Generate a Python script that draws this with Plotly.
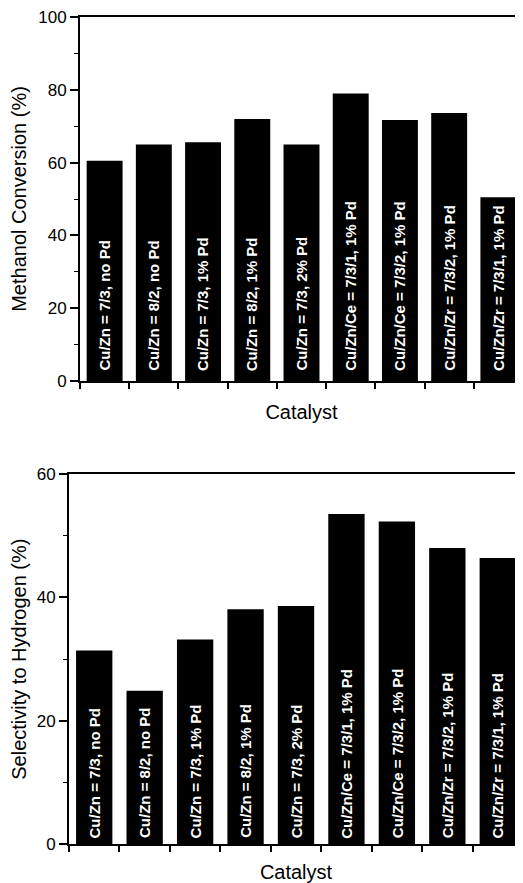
import plotly.graph_objects as go

categories = [
    "Cu/Zn = 7/3, no Pd",
    "Cu/Zn = 8/2, no Pd",
    "Cu/Zn = 7/3, 1% Pd",
    "Cu/Zn = 8/2, 1% Pd",
    "Cu/Zn = 7/3, 2% Pd",
    "Cu/Zn/Ce = 7/3/1, 1% Pd",
    "Cu/Zn/Ce = 7/3/2, 1% Pd",
    "Cu/Zn/Zr = 7/3/2, 1% Pd",
    "Cu/Zn/Zr = 7/3/1, 1% Pd",
]
methanol_conversion = [60.5, 65.0, 65.6, 72.0, 65.0, 79.0, 71.7, 73.6, 50.5]
h2_selectivity = [31.4, 24.9, 33.2, 38.1, 38.6, 53.5, 52.3, 48.0, 46.4]

FONT = "Liberation Sans, Arial, Helvetica, sans-serif"
# the page body has an 8px margin, so the figure is sized to fill the rest of the window
OFF = 8
W, H = 523 - OFF, 883 - OFF


def px_x(s):
    return (s - OFF) / W


def px_y(s):
    return (H - (s - OFF)) / H


fig = go.Figure()
fig.add_trace(go.Bar(x=categories, y=methanol_conversion, marker=dict(color="black", line=dict(width=0)),
                     width=0.73, xaxis="x", yaxis="y", showlegend=False))
fig.add_trace(go.Bar(x=categories, y=h2_selectivity, marker=dict(color="black", line=dict(width=0)),
                     width=0.72, xaxis="x2", yaxis="y2", showlegend=False))

annotations = []
for c in categories:
    annotations.append(dict(x=c, y=0, xref="x", yref="y", text="<b>%s</b>" % c, textangle=-90,
                            showarrow=False, xanchor="center", yanchor="bottom", yshift=8,
                            font=dict(family=FONT, size=15, color="white")))
    annotations.append(dict(x=c, y=0, xref="x2", yref="y2", text="<b>%s</b>" % c, textangle=-90,
                            showarrow=False, xanchor="center", yanchor="bottom", yshift=4,
                            font=dict(family=FONT, size=15, color="white")))

xcommon = dict(showticklabels=False, tickson="boundaries", ticks="outside", ticklen=6, tickwidth=1.5,
               tickcolor="black", showline=True, linecolor="black", linewidth=2, mirror=True,
               showgrid=False, zeroline=False, automargin=False, range=[-0.5, 8.5])
ycommon = dict(ticks="outside", ticklen=8, tickwidth=1.5, tickcolor="black", showline=True,
               linecolor="black", linewidth=2, showgrid=False, zeroline=False, automargin=False,
               ticklabeloverflow="allow",
               tickfont=dict(family=FONT, size=17, color="black"),
               minor=dict(ticks="outside", ticklen=4, tickwidth=1.2, tickcolor="black", dtick=10, showgrid=False))
title_font = dict(family=FONT, size=20, color="black")

fig.update_layout(
    width=W, height=H,
    margin=dict(l=0, r=0, t=0, b=0),
    paper_bgcolor="white", plot_bgcolor="white",
    xaxis=dict(domain=[px_x(80), 1.0], anchor="y",
               title=dict(text="Catalyst", standoff=23, font=title_font), **xcommon),
    yaxis=dict(domain=[px_y(381), px_y(17)], anchor="x", range=[0, 100], dtick=20,
               title=dict(text="Methanol Conversion (%)", standoff=7, font=title_font), **ycommon),
    xaxis2=dict(domain=[px_x(69), 1.0], anchor="y2",
                title=dict(text="Catalyst", standoff=37, font=title_font), **xcommon),
    yaxis2=dict(domain=[px_y(844.3), px_y(474)], anchor="x2", range=[0, 60], dtick=20,
                title=dict(text="Selectivity to Hydrogen (%)", standoff=13, font=title_font), **ycommon),
    annotations=annotations,
)

fig.write_html("out.html")
